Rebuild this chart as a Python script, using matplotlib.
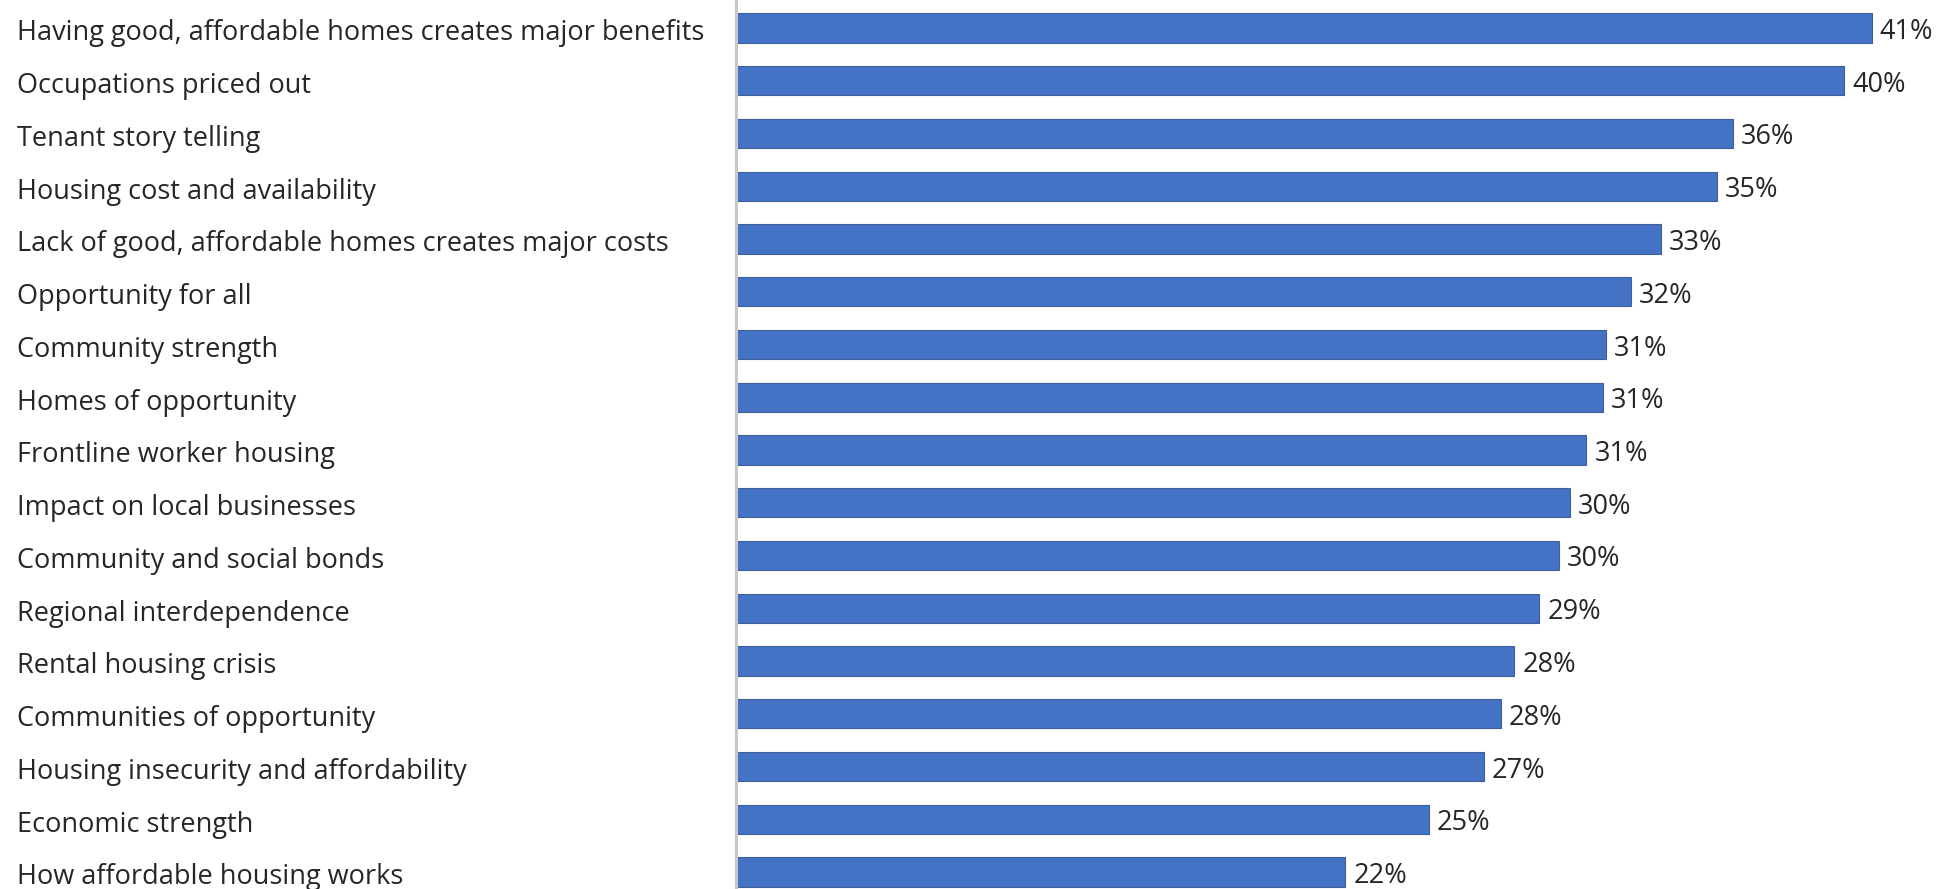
#!/usr/bin/env python3
"""Horizontal bar chart of message-frame shares."""

import matplotlib
matplotlib.use("Agg")
import matplotlib.pyplot as plt
import matplotlib.transforms as mtransforms

categories = [
    "Having good, affordable homes creates major benefits",
    "Occupations priced out",
    "Tenant story telling",
    "Housing cost and availability",
    "Lack of good, affordable homes creates major costs",
    "Opportunity for all",
    "Community strength",
    "Homes of opportunity",
    "Frontline worker housing",
    "Impact on local businesses",
    "Community and social bonds",
    "Regional interdependence",
    "Rental housing crisis",
    "Communities of opportunity",
    "Housing insecurity and affordability",
    "Economic strength",
    "How affordable housing works",
]
shares = [41.0, 40.0, 36.0, 35.4, 33.4, 32.3, 31.4, 31.3, 30.7,
          30.1, 29.7, 29.0, 28.1, 27.6, 27.0, 25.0, 22.0]

BAR_COLOR = "#4472C4"
TEXT_COLOR = "#262626"
FONT = ["Open Sans", "DejaVu Sans"]
FS = 19.5

W, H, DPI = 1944, 889, 100
fig = plt.figure(figsize=(W / DPI, H / DPI), dpi=DPI)
fig.patch.set_facecolor("white")

x0 = 736 / W
ax = fig.add_axes([x0, 0, 1 - x0, 1])

ypos = list(range(len(categories)))
ax.barh(ypos, shares, height=0.55, color=BAR_COLOR,
        edgecolor="#3f5f9a", linewidth=0.8)

# scale: 27.7 px per percentage point
ax.set_xlim(0, (W - 736) / 27.7)
step = 52.75
ax.set_ylim(16 + (H - 872) / step, -28 / step)

for s in ["top", "right", "bottom"]:
    ax.spines[s].set_visible(False)
ax.spines["left"].set_color("#C8C8C8")
ax.spines["left"].set_linewidth(2.2)
ax.set_xticks([])
ax.set_yticks([])

for y, v in zip(ypos, shares):
    ax.annotate(f"{v:.0f}%", xy=(v, y), xytext=(8, -4),
                textcoords="offset pixels", va="center", ha="left",
                fontsize=FS, color=TEXT_COLOR, family=FONT)

# category names left-aligned at the figure edge
trans = mtransforms.blended_transform_factory(fig.transFigure, ax.transData)
for y, name in zip(ypos, categories):
    ax.text(17 / W, y + 0.1, name, transform=trans, ha="left", va="center",
            fontsize=FS, color=TEXT_COLOR, family=FONT, clip_on=False)

fig.savefig("out.png", dpi=DPI, facecolor="white")
